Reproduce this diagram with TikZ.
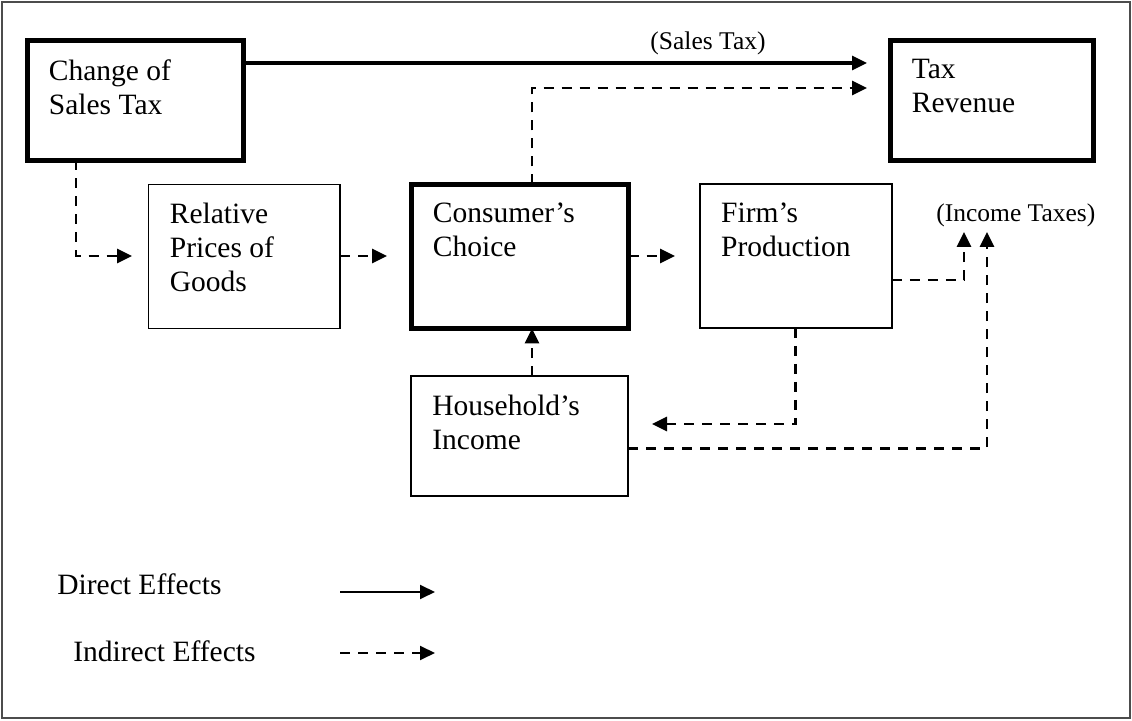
\documentclass[tikz,border=0pt]{standalone}
\usepackage{fontspec}
\setmainfont{Liberation Serif}
\usetikzlibrary{arrows.meta, positioning}

\begin{document}
\begin{tikzpicture}[
  x=0.5pt, y=-0.5pt,
  block/.style={draw, rectangle, line width=0.75pt, outer sep=0pt, inner sep=0pt},
  thickblock/.style={block, line width=2.5pt},
  ltext/.style={anchor=base west, inner sep=0pt, font=\fontsize{14.75}{17}\selectfont},
  btext/.style={ltext, anchor=north west, align=left, xshift=10.5pt, yshift=-9.2pt},
  lbl/.style={inner sep=0pt, font=\fontsize{12.75}{15}\selectfont},
  arr/.style={-{Triangle[length=7.5pt, width=7pt]}, line width=1.6pt},
  darr/.style={arr, line width=1.4pt, dash pattern=on 5pt off 4pt}
]
\useasboundingbox (0,0) rectangle (1132,721);
\draw[black!70, line width=0.75pt] (2,2) rectangle (1130,718);

% boxes
\node[thickblock, minimum width=108pt, minimum height=60pt,
  label={[btext]north west:Change of\\Sales Tax}] (change) at (135.5,100.5) {};
\node[thickblock, minimum width=101.5pt, minimum height=60pt,
  label={[btext]north west:Tax\\Revenue}] (taxrev) at (992,100.5) {};
\node[block, minimum width=95.75pt, minimum height=72pt,
  label={[btext]north west:Relative\\Prices of\\Goods}] (relative) at (244.25,256.5) {};
\node[thickblock, minimum width=108.5pt, minimum height=72pt,
  label={[btext]north west:Consumer’s\\Choice}] (consumer) at (520,256.5) {};
\node[block, minimum width=96pt, minimum height=72pt,
  label={[btext]north west:Firm’s\\Production}] (firm) at (795.75,256) {};
\node[block, minimum width=108.5pt, minimum height=60pt,
  label={[btext]north west:Household’s\\Income}] (household) at (519.5,436.25) {};

\node[lbl, anchor=base west] (inctax) at (936,222) {(Income Taxes)};

% route points
\coordinate (tri1) at (867,63);
\coordinate (tri2) at (867,88);
\coordinate (cup) at (532,88);
\coordinate (cdn) at (76,256);
\coordinate (relin) at (132,256);
\coordinate (conin) at (387,256);
\coordinate (firmin) at (675,256);
\coordinate (itx1) at (964,232);
\coordinate (itx2) at (987,232);
\coordinate (hhin) at (652,424);

\draw[arr] (change.east |- tri1) -- node[lbl, pos=0.745, anchor=base, yshift=6.5pt] (salestax) {(Sales Tax)} (tri1);
\draw[darr] (consumer.north -| cup) -- (cup) -- (tri2);
\draw[darr] (change.south -| cdn) -- (cdn) -- (relin);
\draw[darr] (relative.east |- conin) -- (conin);
\draw[darr] (consumer.east |- firmin) -- (firmin);
\draw[darr] ([yshift=-12pt]firm.east) -| (itx1);
\draw[darr] (firm.south) |- (hhin);
\draw[darr] ([yshift=-6pt]household.east) -| (itx2);
\draw[darr] (household.north -| cup) -- (consumer.south -| cup);

% legend
\node[ltext] (direct) at (57,595) {Direct Effects};
\node[ltext] (indirect) at (73,662) {Indirect Effects};
\coordinate (d0) at (340,592);
\coordinate (d1) at (435,592);
\coordinate (i0) at (340,653);
\coordinate (i1) at (435,653);
\draw[arr, line width=1pt] (d0) -- (d1);
\draw[darr, line width=1pt] (i0) -- (i1);
\end{tikzpicture}
\end{document}
